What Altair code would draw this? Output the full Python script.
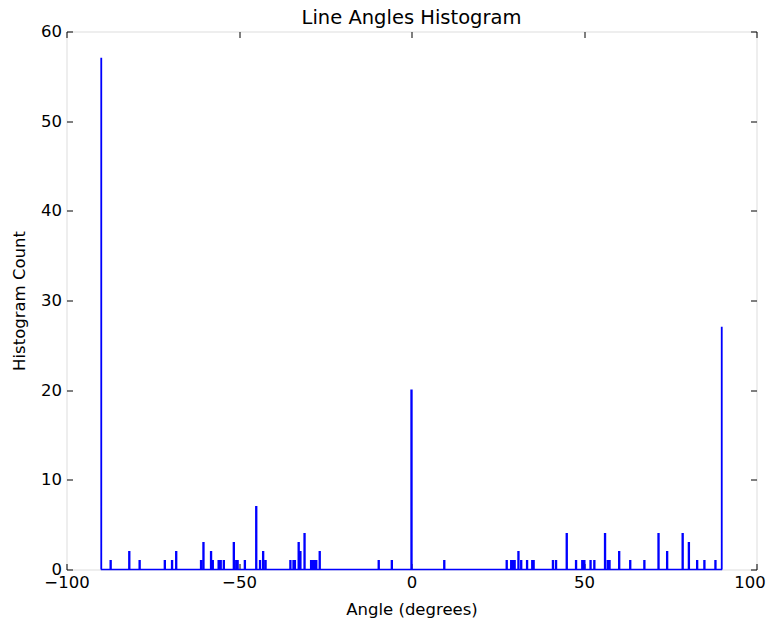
import altair as alt
import pandas as pd

# Histogram bins (bin centre in degrees) and their counts
angles = [-90, -87.2, -81.8, -78.8, -71.5, -69.4, -68.2, -61.0, -60.3, -58.1, -57.6,
          -55.9, -55.3, -54.4, -51.5, -50.8, -50.4, -48.3, -45.0, -43.9, -43.0, -42.3,
          -35.1, -34.2, -33.8, -32.7, -32.2, -31.0, -29.1, -28.6, -28.1, -27.6, -26.6,
          -9.5, -5.7, 0.0, 9.5, 27.6, 28.9, 29.4, 29.9, 31.0, 31.8, 33.5, 35.0, 35.4,
          41.0, 41.9, 45.0, 47.7, 49.5, 50.1, 51.9, 53.0, 56.1, 56.9, 57.4, 60.2, 63.4,
          67.5, 71.6, 74.1, 78.6, 80.4, 82.8, 84.9, 88.1, 90]
counts = [57, 1, 2, 1, 1, 1, 2, 1, 3, 2, 1,
          1, 1, 1, 3, 1, 1, 1, 7, 1, 2, 1,
          1, 1, 1, 3, 2, 4, 1, 1, 1, 1, 2,
          1, 1, 20, 1, 1, 1, 1, 1, 2, 1, 1, 1, 1,
          1, 1, 4, 1, 1, 1, 1, 1, 4, 1, 1, 2, 1,
          1, 4, 2, 4, 3, 1, 1, 1, 27]
bin_width = 0.3
x_ticks = [-100, -50, 0, 50, 100]
y_ticks = [0, 10, 20, 30, 40, 50, 60]

# Build the step-histogram outline from the bins
pts = [(-90.0, 0)]
for a, c in sorted(zip(angles, counts)):
    x0 = max(-90.0, a - bin_width / 2)
    x1 = min(90.0, a + bin_width / 2)
    pts += [(x0, 0), (x0, c), (x1, c), (x1, 0)]
pts.append((90.0, 0))
df = pd.DataFrame(pts, columns=["angle", "count"])
df["i"] = range(len(df))

FONT = "DejaVu Sans"
xscale = alt.Scale(domain=[-100, 100], nice=False, zero=False)
yscale = alt.Scale(domain=[0, 60], nice=False)

bottom_axis = alt.Axis(values=x_ticks, orient="bottom", offset=-6, tickSize=6,
                       labelPadding=5, labelFlush=False, labelOverlap=False,
                       labelOffset=alt.condition("datum.value == 100", alt.value(-7), alt.value(0)),
                       domain=False, grid=False, tickColor="black",
                       labelColor="black", labelFont=FONT, labelFontSize=16.5,
                       title="Angle (degrees)", titleFont=FONT, titleFontSize=16.5,
                       titleFontWeight="normal", titleColor="black", titlePadding=10)
left_axis = alt.Axis(values=y_ticks, orient="left", offset=-6, tickSize=6,
                     labelPadding=5, labelFlush=False, labelOverlap=False,
                     domain=False, grid=False, tickColor="black",
                     labelColor="black", labelFont=FONT, labelFontSize=16.5,
                     title="Histogram Count", titleFont=FONT, titleFontSize=16.5,
                     titleFontWeight="normal", titleColor="black", titlePadding=13)
top_axis = alt.Axis(values=x_ticks, orient="top", offset=-6, tickSize=6, labels=False,
                    domain=False, grid=False, tickColor="black", title=None)
right_axis = alt.Axis(values=y_ticks, orient="right", offset=-6, tickSize=6, labels=False,
                      domain=False, grid=False, tickColor="black", title=None)

line = alt.Chart(df).mark_line(color="#0000ff", strokeWidth=1.3).encode(
    x=alt.X("angle:Q", scale=xscale, axis=bottom_axis),
    y=alt.Y("count:Q", scale=yscale, axis=left_axis),
    order=alt.Order("i:Q"),
)
ghost = alt.Chart(df).mark_line(opacity=0).encode(
    x=alt.X("angle:Q", scale=xscale, axis=top_axis),
    y=alt.Y("count:Q", scale=yscale, axis=right_axis),
    order=alt.Order("i:Q"),
)

chart = (
    alt.layer(line, ghost)
    .resolve_axis(x="independent", y="independent")
    .properties(
        width=690, height=538,
        title=alt.TitleParams("Line Angles Histogram", font=FONT, fontSize=19.5,
                              fontWeight="normal", color="black", offset=-5),
        autosize=alt.AutoSizeParams(type="none"),
        padding={"left": 58.5, "top": 23.5, "right": 10.5, "bottom": 57},
    )
    .configure_view(stroke="#000000", strokeWidth=1, strokeOpacity=1)
    .configure(background="white")
)

chart.save("out.html", embed_options={"renderer": "svg", "actions": False})
